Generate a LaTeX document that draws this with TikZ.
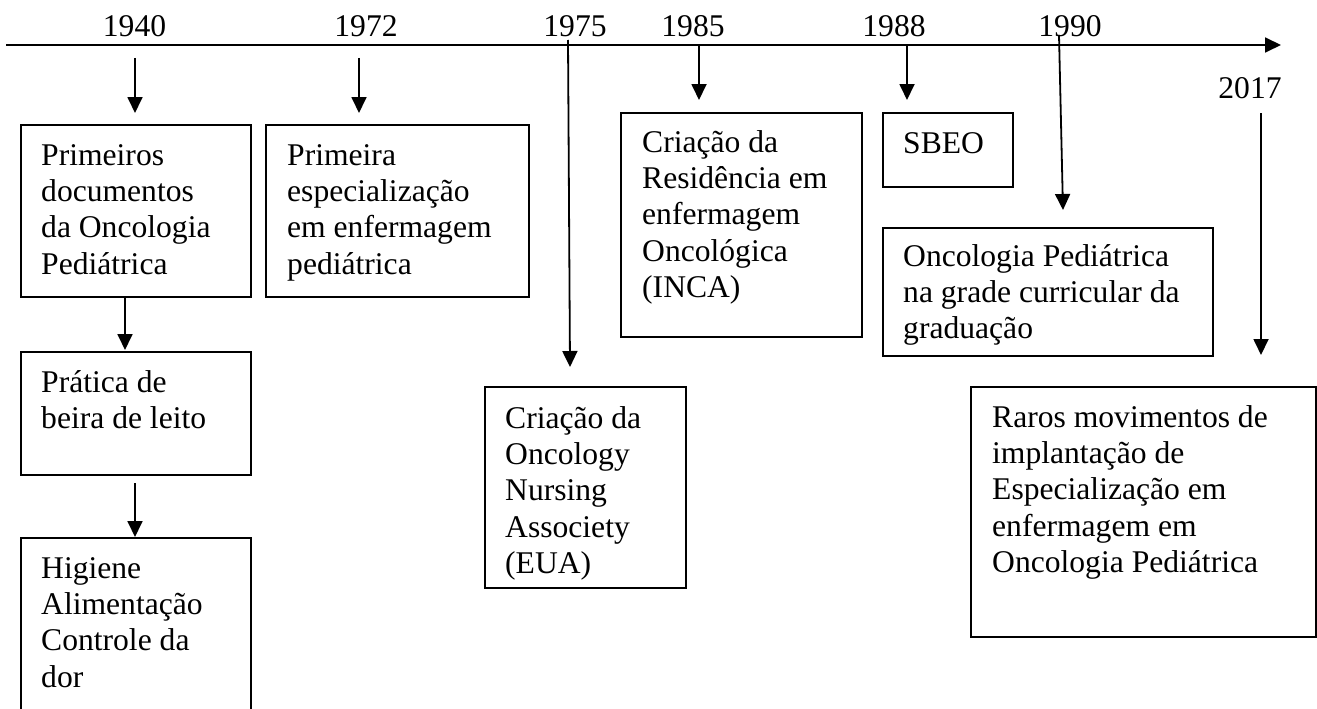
\documentclass[tikz,border=0pt]{standalone}
\usepackage{fontspec}
\setmainfont{Liberation Serif}
\usetikzlibrary{arrows.meta}
\begin{document}
\begin{tikzpicture}[x=1pt,y=-1pt,
  box/.style={draw, line width=1.6pt, rectangle, inner sep=0pt, outer sep=0pt, anchor=north west},
  arr/.style={line width=1.8pt, -{Triangle[length=16pt,width=15pt]}},
  txt/.style={inner sep=0pt, anchor=base west, font=\fontsize{31.6pt}{36.4pt}\selectfont},
  yr/.style={inner sep=0pt, anchor=base, font=\fontsize{31.6pt}{36.4pt}\selectfont}]
\useasboundingbox (0,0) rectangle (1317,709);
\clip (0,0) rectangle (1317,709);
\fill[white] (0,0) rectangle (1317,709);

% timeline
\coordinate (tl0) at (6,45);
\coordinate (tl1) at (1281,45);
\draw[arr] (tl0) -- (tl1);

% years
\node[yr] (y1940) at (134.5,37) {1940};
\node[yr] (y1972) at (366,37) {1972};
\node[yr] (y1975) at (575,37) {1975};
\node[yr] (y1985) at (693,37) {1985};
\node[yr] (y1988) at (894,37) {1988};
\node[yr] (y1990) at (1070,37) {1990};
\node[yr] (y2017) at (1250,99) {2017};

% boxes
\node[box, minimum width=230pt, minimum height=172pt] (b1) at (21,125) {};
\node[box, minimum width=263pt, minimum height=172pt] (b1972) at (266,125) {};
\node[box, minimum width=230pt, minimum height=123pt] (b2) at (21,352) {};
\node[box, minimum width=230pt, minimum height=200pt] (b3) at (21,538) {};
\node[box, minimum width=201pt, minimum height=201pt] (b1975) at (485,387) {};
\node[box, minimum width=241pt, minimum height=224pt] (b1985) at (621,113) {};
\node[box, minimum width=130pt, minimum height=74pt] (bsbeo) at (883,113) {};
\node[box, minimum width=330pt, minimum height=128pt] (b1990) at (883,228) {};
\node[box, minimum width=345pt, minimum height=250pt] (b2017) at (971,387) {};

% texts
\node[txt] (t1) at (41,165) {\parbox[t]{300pt}{\raggedright Primeiros\\documentos\\da Oncologia\\Pediátrica}};
\node[txt] (t1972) at (287,165) {\parbox[t]{300pt}{\raggedright Primeira\\especialização\\em enfermagem\\pediátrica}};
\node[txt] (t2) at (41,392) {\parbox[t]{300pt}{\raggedright Prática de\\beira de leito}};
\node[txt] (t3) at (41,578) {\parbox[t]{300pt}{\raggedright Higiene\\Alimentação\\Controle da\\dor}};
\node[txt] (t1975) at (505,428) {\parbox[t]{300pt}{\raggedright Criação da\\Oncology\\Nursing\\Associety\\(EUA)}};
\node[txt] (t1985) at (642,152) {\parbox[t]{300pt}{\raggedright Criação da\\Residência em\\enfermagem\\Oncológica\\(INCA)}};
\node[txt] (tsbeo) at (903,153) {SBEO};
\node[txt] (t1990) at (903,266) {\parbox[t]{400pt}{\raggedright Oncologia Pediátrica\\na grade curricular da\\graduação}};
\node[txt] (t2017) at (992,427) {\parbox[t]{400pt}{\raggedright Raros movimentos de\\implantação de\\Especialização em\\enfermagem em\\Oncologia Pediátrica}};

% arrow coordinates
\coordinate (a1s) at (135,58);   \coordinate (a1e) at (135,113);
\coordinate (a2s) at (359,58);   \coordinate (a2e) at (359,113);
\coordinate (a3s) at (568,40);   \coordinate (a3e) at (570,367);
\coordinate (a4s) at (699,45);   \coordinate (a4e) at (699,100);
\coordinate (a5s) at (907,45);   \coordinate (a5e) at (907,100);
\coordinate (a6s) at (1059,35);  \coordinate (a6e) at (1063,210);
\coordinate (a7s) at (1261,113); \coordinate (a7e) at (1261,355);
\coordinate (a8s) at (125,297);  \coordinate (a8e) at (125,350);
\coordinate (a9s) at (135,483);  \coordinate (a9e) at (135,537);

\draw[arr] (a1s) -- (a1e);
\draw[arr] (a2s) -- (a2e);
\draw[arr] (a3s) -- (a3e);
\draw[arr] (a4s) -- (a4e);
\draw[arr] (a5s) -- (a5e);
\draw[arr] (a6s) -- (a6e);
\draw[arr] (a7s) -- (a7e);
\draw[arr] (a8s) -- (a8e);
\draw[arr] (a9s) -- (a9e);
\end{tikzpicture}
\end{document}
